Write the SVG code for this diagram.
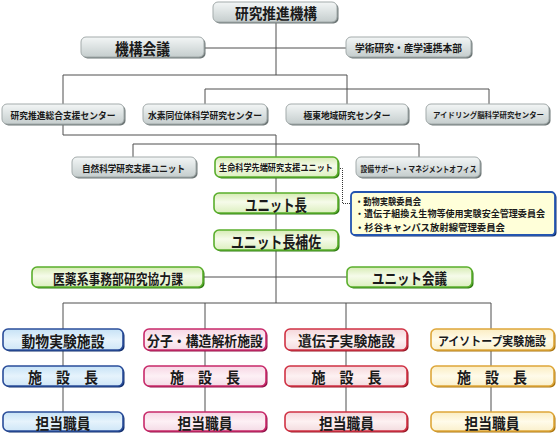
<svg xmlns="http://www.w3.org/2000/svg" width="558" height="433" viewBox="0 0 558 433">
<defs>
<linearGradient id="gGray" x1="0" y1="0" x2="0" y2="1"><stop offset="0" stop-color="#f3f6f6"/><stop offset="0.5" stop-color="#dce2e2"/><stop offset="1" stop-color="#c5cdcd"/></linearGradient>
<linearGradient id="gGreen" x1="0" y1="0" x2="0" y2="1"><stop offset="0" stop-color="#d6ebb4"/><stop offset="0.45" stop-color="#f6fbea"/><stop offset="1" stop-color="#dcefbf"/></linearGradient>
<linearGradient id="gBlue" x1="0" y1="0" x2="0" y2="1"><stop offset="0" stop-color="#c6e2f6"/><stop offset="0.5" stop-color="#e6f3fc"/><stop offset="1" stop-color="#cfe6f7"/></linearGradient>
<linearGradient id="gPink" x1="0" y1="0" x2="0" y2="1"><stop offset="0" stop-color="#f6d6e4"/><stop offset="0.5" stop-color="#fdf0f5"/><stop offset="1" stop-color="#f4dbe6"/></linearGradient>
<linearGradient id="gRed" x1="0" y1="0" x2="0" y2="1"><stop offset="0" stop-color="#f5d6da"/><stop offset="0.5" stop-color="#fdf1f2"/><stop offset="1" stop-color="#f3dcdf"/></linearGradient>
<linearGradient id="gGold" x1="0" y1="0" x2="0" y2="1"><stop offset="0" stop-color="#fbedc2"/><stop offset="0.5" stop-color="#fffbea"/><stop offset="1" stop-color="#faf0cc"/></linearGradient>
</defs>
<style>
.t{font-family:"Noto Sans CJK JP","Noto Sans CJK SC",sans-serif;font-weight:700;fill:#1a1a1a;text-anchor:middle;dominant-baseline:central}
.l{text-anchor:start}
.c{fill:none;stroke:#4f4f4f;stroke-width:1}
.d{fill:none;stroke:#333;stroke-width:1;stroke-dasharray:1 1}
.sg{fill:#6f7878}
.bg{fill:url(#gGray);stroke:#a3abab;stroke-width:1}
.sgr{fill:#2f7a12}
.bgr{fill:url(#gGreen);stroke:#5aae2c;stroke-width:1.6}
.sb{fill:#12306e}
.bb{fill:url(#gBlue);stroke:#2a4d9a;stroke-width:1.6}
.sp{fill:#8f1046}
.bp{fill:url(#gPink);stroke:#c82a6a;stroke-width:1.6}
.sr{fill:#951826}
.br{fill:url(#gRed);stroke:#d03244;stroke-width:1.6}
.so{fill:#a8740e}
.bo{fill:url(#gGold);stroke:#dea73a;stroke-width:1.6}
</style>
<g id="connectors">
<path class="c" d="M276 23V75M204 48H346M63 75H347M63 75V104M347 75V104M205 89H489M205 89V104M489 89V104"/>
<path class="c" d="M63 125V135H276V157M133 144H419M133 144V157M419 144V157"/>
<path class="c" d="M276 178V193M276 214V230M276 251V303M204 277H347M63 303H491M63 303V329M205 303V329M346 303V329M491 303V329"/>
<path class="c" d="M63 351V366M63 387V412M205 351V366M205 387V412M346 351V366M346 387V412M491 351V366M491 387V412"/>
<path class="d" d="M338 168.5H342.5V203.5H351"/>
</g>
<g id="n-top"><rect class="sg" x="214.5" y="3.5" width="124" height="20" rx="5"/><rect class="bg" x="213" y="2" width="124" height="20" rx="5"/><text class="t" x="276" y="12.5" font-size="15" textLength="82" lengthAdjust="spacingAndGlyphs">研究推進機構</text></g>
<g id="n-kaigi"><rect class="sg" x="82.5" y="38.5" width="123" height="20" rx="5"/><rect class="bg" x="81" y="37" width="123" height="20" rx="5"/><text class="t" x="142.5" y="47.5" font-size="16" textLength="55" lengthAdjust="spacingAndGlyphs">機構会議</text></g>
<g id="n-gakujutsu"><rect class="sg" x="347.5" y="38.5" width="125" height="20" rx="5"/><rect class="bg" x="346" y="37" width="125" height="20" rx="5"/><text class="t" x="408.5" y="47.5" font-size="10.5" textLength="107" lengthAdjust="spacingAndGlyphs">学術研究・産学連携本部</text></g>
<g id="n-sogo"><rect class="sg" x="3.5" y="105.5" width="122" height="20" rx="5"/><rect class="bg" x="2" y="104" width="122" height="20" rx="5"/><text class="t" x="63" y="114.5" font-size="9.5" textLength="105" lengthAdjust="spacingAndGlyphs">研究推進総合支援センター</text></g>
<g id="n-suiso"><rect class="sg" x="144.5" y="105.5" width="124" height="20" rx="5"/><rect class="bg" x="143" y="104" width="124" height="20" rx="5"/><text class="t" x="205" y="114.5" font-size="9.5" textLength="114" lengthAdjust="spacingAndGlyphs">水素同位体科学研究センター</text></g>
<g id="n-kyokuto"><rect class="sg" x="287.5" y="105.5" width="122" height="20" rx="5"/><rect class="bg" x="286" y="104" width="122" height="20" rx="5"/><text class="t" x="347" y="114.5" font-size="9.5" textLength="87" lengthAdjust="spacingAndGlyphs">極東地域研究センター</text></g>
<g id="n-idling"><rect class="sg" x="427.5" y="105.5" width="123" height="20" rx="5"/><rect class="bg" x="426" y="104" width="123" height="20" rx="5"/><text class="t" x="488.5" y="114.5" font-size="7.5" textLength="111" lengthAdjust="spacingAndGlyphs">アイドリング脳科学研究センター</text></g>
<g id="n-shizen"><rect class="sg" x="73.5" y="158.5" width="124" height="20" rx="5"/><rect class="bg" x="72" y="157" width="124" height="20" rx="5"/><text class="t" x="133.5" y="167.5" font-size="9.5" textLength="103" lengthAdjust="spacingAndGlyphs">自然科学研究支援ユニット</text></g>
<g id="n-seimei"><rect class="sgr" x="216.5" y="158.5" width="123" height="20" rx="5"/><rect class="bgr" x="215" y="157" width="123" height="20" rx="5"/><text class="t" x="276" y="167.5" font-size="9" textLength="114" lengthAdjust="spacingAndGlyphs">生命科学先端研究支援ユニット</text></g>
<g id="n-setsubi"><rect class="sg" x="357.5" y="158.5" width="124" height="20" rx="5"/><rect class="bg" x="356" y="157" width="124" height="20" rx="5"/><text class="t" x="418.5" y="167.5" font-size="8.5" textLength="116" lengthAdjust="spacingAndGlyphs">設備サポート・マネジメントオフィス</text></g>
<g id="n-committee"><rect x="352.5" y="193.5" width="204" height="43" rx="4" fill="#12306e"/><rect x="351" y="192" width="204" height="43" rx="4" fill="#ffffd9" stroke="#2455b0" stroke-width="1.8"/>
<text class="t l" x="355" y="200.5" font-size="9.5" textLength="66" lengthAdjust="spacingAndGlyphs">・動物実験委員会</text>
<text class="t l" x="355" y="213.5" font-size="9" textLength="190" lengthAdjust="spacingAndGlyphs">・遺伝子組換え生物等使用実験安全管理委員会</text>
<text class="t l" x="355" y="226.5" font-size="9.5" textLength="150" lengthAdjust="spacingAndGlyphs">・杉谷キャンパス放射線管理委員会</text></g>
<g id="n-unitcho"><rect class="sgr" x="215.5" y="194.5" width="124" height="20" rx="5"/><rect class="bgr" x="214" y="193" width="124" height="20" rx="5"/><text class="t" x="276" y="203.5" font-size="16" textLength="62" lengthAdjust="spacingAndGlyphs">ユニット長</text></g>
<g id="n-hosa"><rect class="sgr" x="215.5" y="231.5" width="124" height="20" rx="5"/><rect class="bgr" x="214" y="230" width="124" height="20" rx="5"/><text class="t" x="276" y="240.5" font-size="16" textLength="90" lengthAdjust="spacingAndGlyphs">ユニット長補佐</text></g>
<g id="n-iyaku"><rect class="sgr" x="33.5" y="268.5" width="171" height="20" rx="5"/><rect class="bgr" x="32" y="267" width="171" height="20" rx="5"/><text class="t" x="118" y="277.5" font-size="14" textLength="130" lengthAdjust="spacingAndGlyphs">医薬系事務部研究協力課</text></g>
<g id="n-unitkaigi"><rect class="sgr" x="348.5" y="268.5" width="125" height="20" rx="5"/><rect class="bgr" x="347" y="267" width="125" height="20" rx="5"/><text class="t" x="409.5" y="277.5" font-size="15" textLength="75" lengthAdjust="spacingAndGlyphs">ユニット会議</text></g>
<g id="n-dobutsu"><rect class="sb" x="4.5" y="330.5" width="120" height="21" rx="5"/><rect class="bb" x="3" y="329" width="120" height="21" rx="5"/><text class="t" x="63" y="340" font-size="15" textLength="83" lengthAdjust="spacingAndGlyphs">動物実験施設</text></g>
<g id="n-dobutsu-cho"><rect class="sb" x="4.5" y="367.5" width="120" height="20" rx="5"/><rect class="bb" x="3" y="366" width="120" height="20" rx="5"/><text class="t" x="63" y="376.5" font-size="15" textLength="70" lengthAdjust="spacingAndGlyphs">施　設　長</text></g>
<g id="n-dobutsu-staff"><rect class="sb" x="4.5" y="413.5" width="120" height="19" rx="5"/><rect class="bb" x="3" y="412" width="120" height="19" rx="5"/><text class="t" x="63" y="422" font-size="15" textLength="55" lengthAdjust="spacingAndGlyphs">担当職員</text></g>
<g id="n-bunshi"><rect class="sp" x="145.5" y="330.5" width="122" height="21" rx="5"/><rect class="bp" x="144" y="329" width="122" height="21" rx="5"/><text class="t" x="205" y="340" font-size="14" textLength="116" lengthAdjust="spacingAndGlyphs">分子・構造解析施設</text></g>
<g id="n-bunshi-cho"><rect class="sp" x="145.5" y="367.5" width="122" height="20" rx="5"/><rect class="bp" x="144" y="366" width="122" height="20" rx="5"/><text class="t" x="205" y="376.5" font-size="15" textLength="70" lengthAdjust="spacingAndGlyphs">施　設　長</text></g>
<g id="n-bunshi-staff"><rect class="sp" x="145.5" y="413.5" width="122" height="19" rx="5"/><rect class="bp" x="144" y="412" width="122" height="19" rx="5"/><text class="t" x="205" y="422" font-size="15" textLength="55" lengthAdjust="spacingAndGlyphs">担当職員</text></g>
<g id="n-idenshi"><rect class="sr" x="286.5" y="330.5" width="122" height="21" rx="5"/><rect class="br" x="285" y="329" width="122" height="21" rx="5"/><text class="t" x="346.5" y="340" font-size="14" textLength="97" lengthAdjust="spacingAndGlyphs">遺伝子実験施設</text></g>
<g id="n-idenshi-cho"><rect class="sr" x="286.5" y="367.5" width="122" height="20" rx="5"/><rect class="br" x="285" y="366" width="122" height="20" rx="5"/><text class="t" x="346.5" y="376.5" font-size="15" textLength="70" lengthAdjust="spacingAndGlyphs">施　設　長</text></g>
<g id="n-idenshi-staff"><rect class="sr" x="286.5" y="413.5" width="122" height="19" rx="5"/><rect class="br" x="285" y="412" width="122" height="19" rx="5"/><text class="t" x="346.5" y="422" font-size="15" textLength="55" lengthAdjust="spacingAndGlyphs">担当職員</text></g>
<g id="n-isotope"><rect class="so" x="432.5" y="330.5" width="123" height="21" rx="5"/><rect class="bo" x="431" y="329" width="123" height="21" rx="5"/><text class="t" x="492" y="340" font-size="12" textLength="108" lengthAdjust="spacingAndGlyphs">アイソトープ実験施設</text></g>
<g id="n-isotope-cho"><rect class="so" x="432.5" y="367.5" width="123" height="20" rx="5"/><rect class="bo" x="431" y="366" width="123" height="20" rx="5"/><text class="t" x="492" y="376.5" font-size="15" textLength="70" lengthAdjust="spacingAndGlyphs">施　設　長</text></g>
<g id="n-isotope-staff"><rect class="so" x="432.5" y="413.5" width="123" height="19" rx="5"/><rect class="bo" x="431" y="412" width="123" height="19" rx="5"/><text class="t" x="492" y="422" font-size="15" textLength="55" lengthAdjust="spacingAndGlyphs">担当職員</text></g>
</svg>
